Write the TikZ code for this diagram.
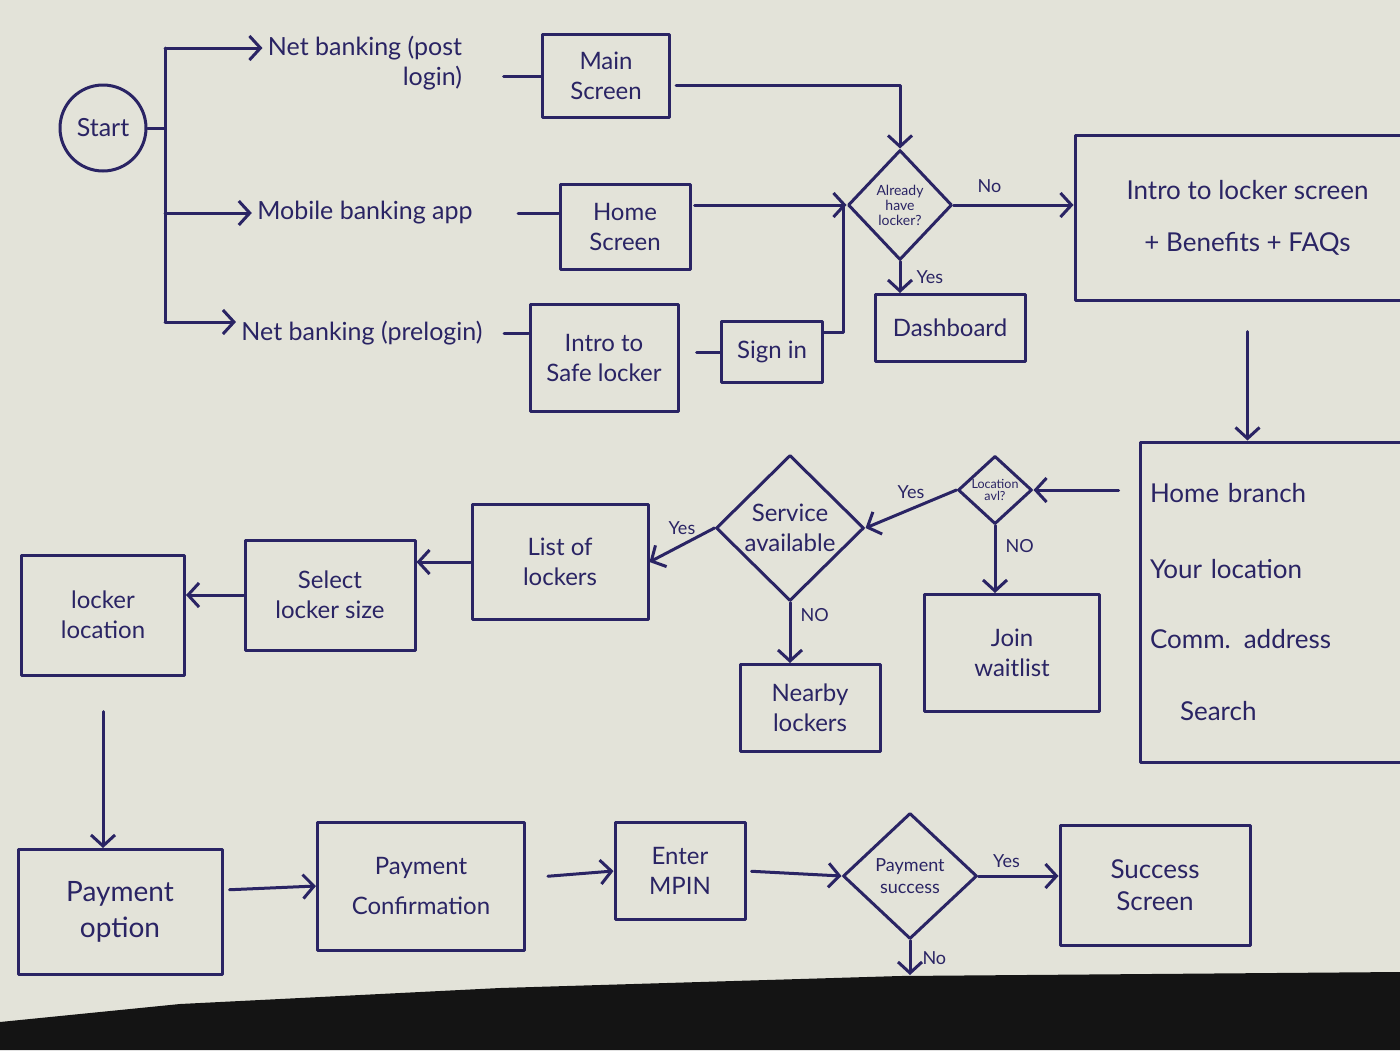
\documentclass[tikz,border=0pt]{standalone}
\usepackage{fontspec}
\setmainfont{Lato}
\usetikzlibrary{shapes.geometric,arrows.meta,calc}
\definecolor{paper}{HTML}{E3E3D9}
\definecolor{ink}{HTML}{2A2464}
\begin{document}
\begin{tikzpicture}[x=1pt,y=-1pt,
  color=ink,
  line width=3pt, line cap=round, line join=round,
  box/.style={draw, rectangle, inner sep=4pt, align=center, font=\fontsize{24}{30}\selectfont},
  dec/.style={draw, diamond, inner sep=0pt, align=center},
  lab/.style={font=\fontsize{18}{20}\selectfont, inner sep=1pt},
  txt/.style={font=\fontsize{25}{30}\selectfont, inner sep=4pt},
  arr/.style={-{Straight Barb[length=11pt,width=24pt]}},
]
\fill[paper] (0,0) rectangle (1400,1050);
\fill[black!92] (0,1022) -- (180,1004) -- (500,988) -- (900,976) -- (1400,972) -- (1400,1050) -- (0,1050) -- cycle;
\path[use as bounding box] (0,0) rectangle (1400,1050);
\clip (0,0) rectangle (1400,1050);

% nodes
\node[circle, draw, minimum size=86pt, txt] (start) at (103,128) {Start};
\node[txt, align=right] (nb1) at (365,63) {Net banking (post\\login)};
\node[txt] (mb) at (365,213) {Mobile banking app};
\node[txt] (nb2) at (362,333) {Net banking (prelogin)};

\node[box, minimum width=127pt, minimum height=83pt] (main) at (606,76) {Main\\Screen};
\node[box, minimum width=130pt, minimum height=85pt] (home) at (625,227) {Home\\Screen};
\node[box, minimum width=148pt, minimum height=107pt] (isl) at (604,358) {Intro to\\Safe locker};
\node[box, minimum width=101pt, minimum height=61pt] (signin) at (772,352) {Sign in};
\node[dec, minimum width=104pt, minimum height=110pt, font=\fontsize{14}{15}\selectfont] (dia) at (900,205) {Already\\have\\locker?};
\node[box, minimum width=150pt, minimum height=67pt] (dash) at (950,328) {Dashboard};
\node[box, minimum width=345pt, minimum height=165pt, font=\fontsize{26}{30}\selectfont] (intro) at (1247.5,217.5) {Intro to locker screen\\[22pt]+ Benefits + FAQs};
\node[box, align=left, text width=260pt, minimum width=280pt, minimum height=320pt, font=\fontsize{26}{30}\selectfont] (hb) at (1280,602) {Home branch\\[46pt]Your location\\[40pt]Comm. address\\[42pt]\hspace{30pt}Search};

\node[dec, minimum width=74pt, minimum height=64pt, font=\fontsize{12.5}{12}\selectfont] (loc) at (995,490) {Location\\avl?};
\node[dec, minimum width=148pt, minimum height=146pt, font=\fontsize{24}{30}\selectfont] (svc) at (790,528) {Service\\available};
\node[box, minimum width=175pt, minimum height=117pt] (join) at (1012,653) {Join\\waitlist};
\node[box, minimum width=140pt, minimum height=87pt] (near) at (810,708) {Nearby\\lockers};
\node[box, minimum width=176pt, minimum height=115pt] (list) at (560,562) {List of\\lockers};
\node[box, minimum width=170pt, minimum height=110pt] (size) at (330,595) {Select\\locker size};
\node[box, minimum width=163pt, minimum height=120pt] (ll) at (103,615) {locker\\location};

\node[box, minimum width=204pt, minimum height=125pt, font=\fontsize{28}{36}\selectfont] (po) at (120,912) {Payment\\option};
\node[box, minimum width=207pt, minimum height=128pt] (pc) at (421,886) {Payment\\[10pt]Confirmation};
\node[box, minimum width=130pt, minimum height=97pt] (mpin) at (680,871) {Enter\\MPIN};
\node[dec, minimum width=134pt, minimum height=126pt, font=\fontsize{18}{22}\selectfont] (ps) at (910,876) {Payment\\success};
\node[box, minimum width=190pt, minimum height=120pt, font=\fontsize{26}{32}\selectfont] (succ) at (1155,885) {Success\\Screen};

% connectors
\coordinate (t1) at (165,48);
\coordinate (t3) at (165,322);
\draw (start.east) -- (start.east -| t1);
\draw (t1) -- (t3);
\draw[arr] (t1) -- (nb1.west |- t1);
\draw[arr] (t1 |- mb.west) -- (mb.west);
\draw[arr] (t3) -- (nb2.west |- t3);

\draw[shorten <=36pt] (nb1.east |- main.west) -- (main.west);
\draw[shorten <=40pt] (mb.east) -- (mb.east -| home.west);
\draw[shorten <=16pt] (nb2.east) -- (nb2.east -| isl.west);
\draw[shorten <=17pt] (isl.east |- signin.west) -- (signin.west);

\draw[arr, shorten <=5pt] ([yshift=-9pt]main.east) -| (dia.north);
\coordinate (sj) at (843,205);
\draw[arr, shorten <=3pt] (home.east |- dia.west) -- (dia.west);
\draw ([yshift=20pt]signin.east) -| (sj);

\draw[arr] (dia.east) -- node[lab, above=10pt, pos=0.3]{No} (dia.east -| intro.west);
\draw[arr] (dia.south) -- node[lab, right=14pt]{Yes} (dia.south |- dash.north);
\draw[arr] ($(intro.south)+(0,30)$) -- (intro.south |- hb.north);
\draw[arr] ($(hb.west |- loc.east)+(-20,0)$) -- (loc.east);
\draw[arr] (loc.west) -- node[lab, above=8pt]{Yes} (svc.east);
\draw[arr] (loc.south) -- node[lab, right=8pt, pos=0.3]{NO} (loc.south |- join.north);
\draw[arr] (svc.south) -- node[lab, right=8pt, pos=0.2]{NO} (svc.south |- near.north);
\draw[arr] (svc.west) -- node[lab, above=8pt]{Yes} (list.east);
\draw[arr] (list.west) -- (list.west -| size.east);
\draw[arr] (size.west) -- (size.west -| ll.east);
\draw[arr] ($(ll.south)+(0,35)$) -- (ll.south |- po.north);
\draw[arr, shorten <=6pt] ([yshift=22pt]po.east) -- (pc.west);
\draw[arr, shorten <=22pt] ([yshift=8pt]pc.east) -- (mpin.west);
\draw[arr, shorten <=5pt] (mpin.east) -- (ps.west);
\draw[arr] (ps.east) -- node[lab, above=6pt, pos=0.35]{Yes} (ps.east -| succ.west);
\coordinate (psno) at (910,975);
\draw[arr] (ps.south) -- node[lab, right=10pt, pos=0.5]{No} (psno);
\end{tikzpicture}
\end{document}
